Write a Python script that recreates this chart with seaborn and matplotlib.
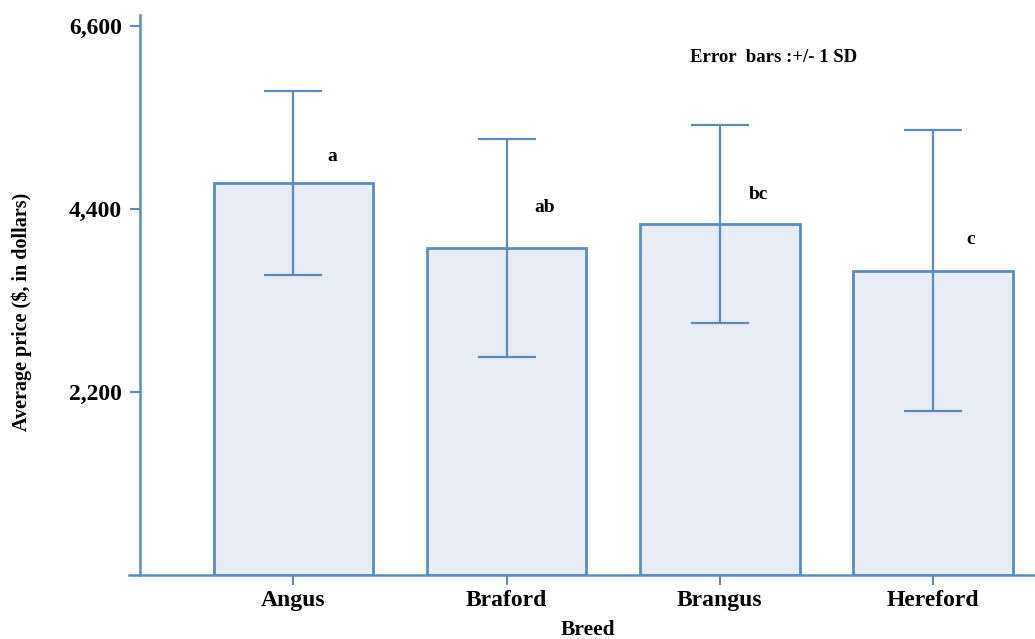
import matplotlib
matplotlib.use("Agg")
import matplotlib.pyplot as plt
import seaborn as sns
import pandas as pd

breeds = ["Angus", "Braford", "Brangus", "Hereford"]
mean_price = [4713, 3931, 4220, 3655]
sd_price = [1106, 1310, 1190, 1690]
letters = ["a", "ab", "bc", "c"]
letter_y = [5025, 4412, 4568, 4027]
y_ticks = [2200, 4400, 6600]

sns.set_theme(style="white")
plt.rcParams['font.family'] = ['Liberation Serif', 'DejaVu Serif']
plt.rcParams['text.color'] = 'black'
plt.rcParams['axes.labelcolor'] = 'black'
plt.rcParams['xtick.labelcolor'] = 'black'
plt.rcParams['ytick.labelcolor'] = 'black'

blue = "#5a8cc2"
fill = "#e8edf5"

df = pd.DataFrame({"Breed": breeds, "Price": mean_price})

fig = plt.figure(figsize=(10.35, 6.39), dpi=100)
ax = fig.add_axes([0.1353, 0.1002, 0.8647, 0.8763])

sns.barplot(data=df, x="Breed", y="Price", ax=ax, color=fill, width=0.75,
            edgecolor=blue, linewidth=2, errorbar=None, saturation=1)
ax.errorbar(range(len(breeds)), mean_price, yerr=sd_price, fmt="none",
            ecolor=blue, elinewidth=1.6, capsize=21, capthick=1.6, zorder=5)

for i, (lab, ly) in enumerate(zip(letters, letter_y)):
    ax.text(i + 0.18, ly, lab, fontsize=14, fontweight="bold", ha="center",
            va="center", color="black")

ax.text(0.708, 0.925, "Error  bars :+/- 1 SD", transform=ax.transAxes,
        fontsize=13.5, fontweight="bold", ha="center", va="center", color="black")

ax.set_xlim(-0.72, 3.48)
ax.set_ylim(0, 6730)
ax.set_yticks(y_ticks)
ax.set_yticklabels([f"{v:,}" for v in y_ticks])

for s in ["top", "right"]:
    ax.spines[s].set_visible(False)
for s in ["left", "bottom"]:
    ax.spines[s].set_color(blue)
    ax.spines[s].set_linewidth(1.8)
ax.spines["bottom"].set_bounds(-0.77, 3.48)

ax.tick_params(axis="both", which="both", direction="out", length=7, width=1.5,
               color=blue, bottom=True, left=True)
ax.tick_params(axis="y", labelsize=17, pad=6)
ax.tick_params(axis="x", labelsize=17, pad=4)
for lbl in ax.get_xticklabels() + ax.get_yticklabels():
    lbl.set_fontweight("bold")

ax.set_xlabel("Breed", fontsize=15.5, fontweight="bold", labelpad=6)
ax.set_ylabel("Average price ($, in dollars)", fontsize=14.5, fontweight="bold")
ax.yaxis.set_label_coords(-0.121, 0.47)

fig.savefig("out.png", dpi=100)
